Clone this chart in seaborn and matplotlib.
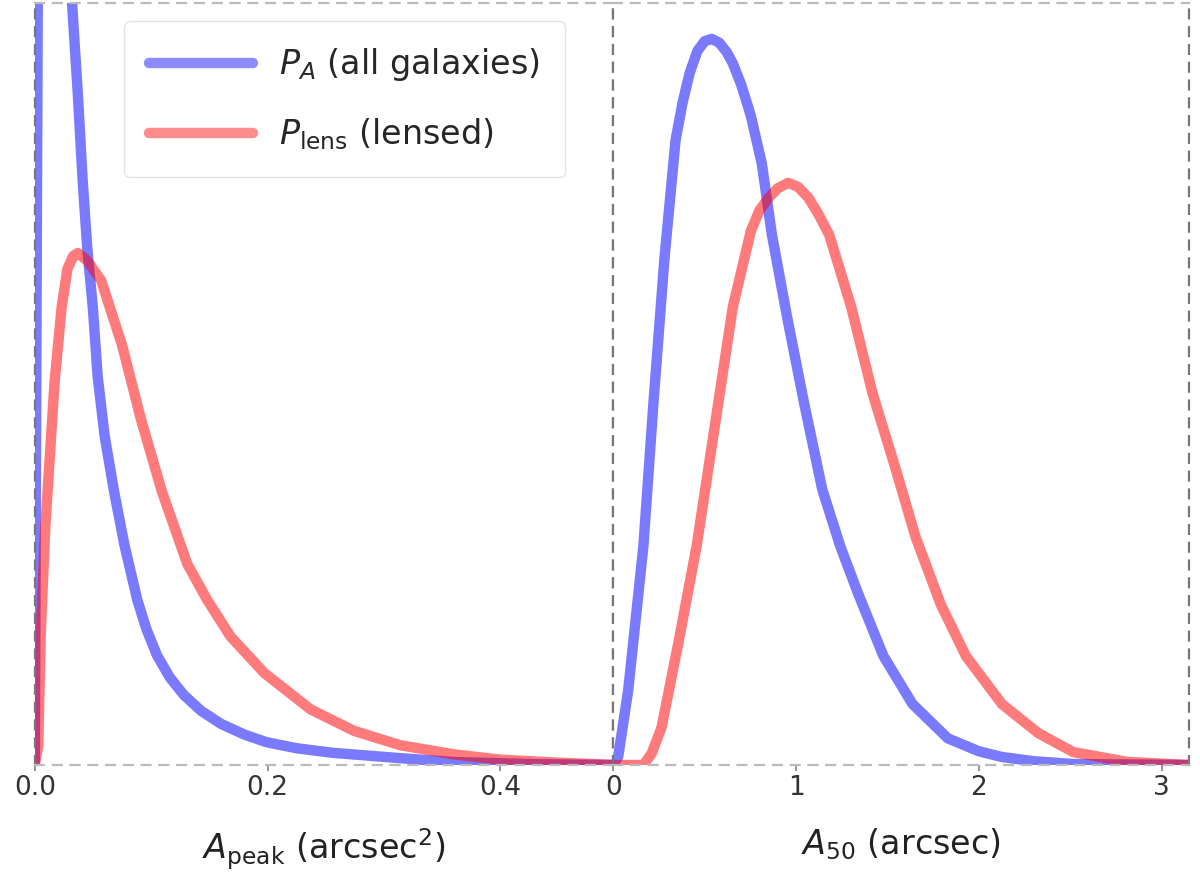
import numpy as np
import pandas as pd
import matplotlib
matplotlib.use("Agg")
import matplotlib.pyplot as plt
import seaborn as sns

# values (y in units of the visible panel height)
lab_all = r"$P_A$ (all galaxies)"
lab_lens = r"$P_{\rm lens}$ (lensed)"

peak_x_all = [0.0, 0.002, 0.004, 0.007, 0.012, 0.018, 0.027, 0.032, 0.037, 0.041, 0.045,
              0.050, 0.054, 0.060, 0.068, 0.077, 0.088, 0.096, 0.105, 0.116, 0.128,
              0.143, 0.160, 0.180, 0.199, 0.225, 0.256, 0.314, 0.359, 0.432, 0.500]
peak_y_all = [0.0, 0.80, 1.60, 2.40, 2.50, 1.90, 1.26, 1.00, 0.88, 0.77, 0.680,
              0.598, 0.510, 0.432, 0.360, 0.289, 0.217, 0.178, 0.144, 0.115, 0.092,
              0.071, 0.054, 0.040, 0.030, 0.022, 0.016, 0.009, 0.004, 0.001, 0.0]

peak_x_lens = [0.0, 0.003, 0.005, 0.009, 0.017, 0.023, 0.028, 0.033, 0.037, 0.045, 0.057,
               0.075, 0.091, 0.109, 0.131, 0.148, 0.168, 0.197, 0.237, 0.274, 0.314,
               0.360, 0.400, 0.450, 0.500]
peak_y_lens = [0.0, 0.026, 0.169, 0.312, 0.503, 0.600, 0.651, 0.668, 0.672, 0.662, 0.636,
               0.551, 0.455, 0.360, 0.264, 0.217, 0.169, 0.121, 0.073, 0.045, 0.026,
               0.014, 0.007, 0.003, 0.0]

size_x_all = [0.0, 0.027, 0.082, 0.165, 0.220, 0.280, 0.341, 0.380, 0.418, 0.460, 0.500,
              0.538, 0.580, 0.620, 0.654, 0.700, 0.753, 0.813, 0.868, 0.951, 1.044,
              1.143, 1.242, 1.341, 1.478, 1.637, 1.830, 2.000, 2.126, 2.300, 2.516, 3.15]
size_y_all = [0.0, 0.0105, 0.098, 0.287, 0.475, 0.664, 0.820, 0.870, 0.908, 0.937, 0.950,
              0.953, 0.948, 0.936, 0.921, 0.893, 0.852, 0.789, 0.696, 0.588, 0.475,
              0.362, 0.287, 0.224, 0.143, 0.080, 0.035, 0.018, 0.0105, 0.005, 0.0013, 0.0]

size_x_lens = [0.0, 0.165, 0.210, 0.264, 0.357, 0.456, 0.555, 0.654, 0.753, 0.800, 0.852,
               0.900, 0.956, 1.010, 1.066, 1.120, 1.181, 1.302, 1.418, 1.538, 1.654,
               1.791, 1.929, 2.126, 2.324, 2.516, 2.813, 3.15]
size_y_lens = [0.0, 0.0, 0.015, 0.049, 0.161, 0.287, 0.444, 0.601, 0.701, 0.728, 0.745,
               0.757, 0.764, 0.759, 0.745, 0.724, 0.696, 0.601, 0.488, 0.394, 0.299,
               0.211, 0.143, 0.080, 0.042, 0.017, 0.004, 0.0]

left_ticks = [0.0, 0.2, 0.4]
left_ticklabels = ["0.0", "0.2", "0.4"]
right_ticks = [0, 1, 2, 3]
right_ticklabels = ["0", "1", "2", "3"]

xlabel_left = r"$A_{\rm peak}$ (arcsec$^2$)"
xlabel_right = r"$A_{50}$ (arcsec)"

left_df = pd.concat([
    pd.DataFrame({"x": peak_x_all, "y": peak_y_all, "s": lab_all}),
    pd.DataFrame({"x": peak_x_lens, "y": peak_y_lens, "s": lab_lens}),
])
right_df = pd.concat([
    pd.DataFrame({"x": size_x_all, "y": size_y_all, "s": lab_all}),
    pd.DataFrame({"x": size_x_lens, "y": size_y_lens, "s": lab_lens}),
])

sns.set_theme(style="white")
plt.rcParams['font.family'] = ['DejaVu Sans']
pal = {lab_all: "blue", lab_lens: "red"}

fig = plt.figure(figsize=(12, 8.88), dpi=100)
ax1 = fig.add_axes([0.029, 0.1385, 0.482, 0.858])
ax2 = fig.add_axes([0.511, 0.1385, 0.480, 0.858])

sns.lineplot(data=left_df, x="x", y="y", hue="s", palette=pal, ax=ax1,
             lw=7.5, alpha=0.52, sort=False, estimator=None)
sns.lineplot(data=right_df, x="x", y="y", hue="s", palette=pal, ax=ax2,
             lw=7.5, alpha=0.52, sort=False, estimator=None, legend=False)

ax1.set_xlim(0, 0.497)
ax2.set_xlim(0, 3.15)
for ax in (ax1, ax2):
    ax.set_ylim(0, 1)
    ax.set_yticks([])
    ax.set_ylabel("")
    for side, sp in ax.spines.items():
        sp.set_linestyle((0, (4, 4)))
        sp.set_linewidth(1.6)
        sp.set_color("#777777" if side in ("left", "right") else "#bbbbbb")
    ax.tick_params(axis="x", labelsize=19, length=4, color="#888888",
                   labelcolor="#333333", bottom=True)

ax1.set_xticks(left_ticks, left_ticklabels)
ax2.set_xticks(right_ticks, right_ticklabels)
ax1.set_xlabel(xlabel_left, fontsize=24, color="#222222", labelpad=18)
ax2.set_xlabel(xlabel_right, fontsize=24, color="#222222", labelpad=18)

leg = ax1.legend(loc="upper left", bbox_to_anchor=(0.155, 0.976), borderaxespad=0,
                 fontsize=24, handlelength=3.1, borderpad=0.75, labelspacing=1.0,
                 frameon=True, framealpha=0.8, edgecolor="#dddddd")
for h in leg.get_lines():
    h.set_linewidth(7.5)
    h.set_alpha(0.45)

fig.savefig("out.png", dpi=100)
